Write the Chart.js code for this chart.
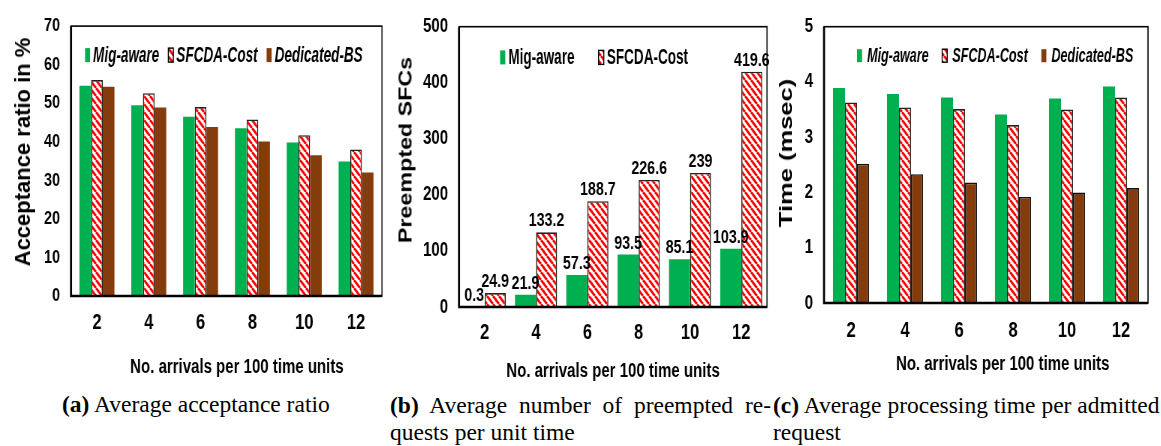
<!DOCTYPE html>
<html>
<head>
<meta charset="utf-8">
<script src="https://cdn.jsdelivr.net/npm/chart.js@4.4.1/dist/chart.umd.min.js"></script>
<style>
  body { margin: 0; background: #fff; width: 1161px; height: 446px; overflow: hidden; position: relative; }
  .squeeze { position: absolute; top: 0; transform: scaleX(0.75); transform-origin: 0 0; }
  .ytitle { position: absolute; font-family: 'Liberation Sans', Arial, sans-serif; font-weight: bold; white-space: nowrap; color: #000; }
  .cap { position: absolute; font-family: 'Liberation Serif', 'Times New Roman', serif; font-size: 23.5px; line-height: 28px; color: #000; white-space: nowrap; }
  .just { white-space: normal; text-align: justify; text-align-last: justify; }
</style>
</head>
<body>
<div class="squeeze" style="left:0px"><canvas id="chartA" width="520" height="390"></canvas></div>
<div class="squeeze" style="left:385px"><canvas id="chartB" width="520" height="390"></canvas></div>
<div class="squeeze" style="left:770px"><canvas id="chartC" width="521" height="390"></canvas></div>

<div class="ytitle" id="ytA" style="font-size:22px">Acceptance ratio in %</div>
<div class="ytitle" id="ytB" style="font-size:17.5px">Preempted SFCs</div>
<div class="ytitle" id="ytC" style="font-size:18.5px">Time (msec)</div>

<div class="cap" style="left:62px;top:390px"><b>(a)</b> Average acceptance ratio</div>
<div class="cap just" style="left:390px;top:391px;width:381px"><b>(b)</b> Average number of preempted re-</div>
<div class="cap" style="left:390px;top:418px">quests per unit time</div>
<div class="cap" style="left:773px;top:391px"><b>(c)</b> Average processing time per admitted</div>
<div class="cap" style="left:773px;top:418px">request</div>

<script>
const arrivals = ['2', '4', '6', '8', '10', '12'];
const seriesNames = ['Mig-aware', 'SFCDA-Cost', 'Dedicated-BS'];

// (a) acceptance ratio in %
const acceptMig = [54.5, 49.5, 46.5, 43.5, 39.8, 34.9];
const acceptSfcda = [56, 52.6, 49, 45.8, 41.7, 38];
const acceptDedicated = [54.3, 48.9, 43.8, 40.1, 36.5, 32];

// (b) preempted SFCs
const preemptMig = [0.3, 21.9, 57.3, 93.5, 85.1, 103.9];
const preemptSfcda = [24.9, 133.2, 188.7, 226.6, 239, 419.6];

// (c) processing time (msec)
const timeMig = [3.89, 3.78, 3.72, 3.41, 3.70, 3.92];
const timeSfcda = [3.63, 3.54, 3.51, 3.22, 3.50, 3.72];
const timeDedicated = [2.52, 2.33, 2.18, 1.92, 2.00, 2.08];

const GREEN = '#00b050';
const BROWN = '#843c0c';
const FONT = "'Liberation Sans', Arial, sans-serif";

// red diagonal hatch used for SFCDA-Cost
function hatch() {
    const c = document.createElement('canvas');
    c.width = 8; c.height = 8;
    const g = c.getContext('2d');
    g.fillStyle = '#fff';
    g.fillRect(0, 0, 8, 8);
    g.strokeStyle = '#ff0000';
    g.lineWidth = 2.8;
    g.beginPath();
    [-8, 0, 8].forEach(o => { g.moveTo(o, 0); g.lineTo(o + 8, 8); });
    g.stroke();
    return g.createPattern(c, 'repeat');
}
const HATCH = hatch();

const frame = {
    id: 'frame',
    afterDatasetsDraw(chart) {
        const { ctx, chartArea: a } = chart;
        ctx.save();
        ctx.strokeStyle = '#000';
        ctx.lineWidth = 1.6;
        ctx.strokeRect(a.left, a.top, a.right - a.left, a.bottom - a.top);
        ctx.lineWidth = 2.7;
        ctx.beginPath();
        ctx.moveTo(a.left, a.top);
        ctx.lineTo(a.left, a.bottom);
        ctx.lineTo(a.right, a.bottom);
        ctx.stroke();
        ctx.restore();
    }
};

const insideLegend = {
    id: 'insideLegend',
    afterDraw(chart, args, o) {
        const { ctx, chartArea } = chart;
        ctx.save();
        ctx.font = o.font;
        ctx.textBaseline = 'middle';
        let x = chartArea.left + o.x;
        const y = chartArea.top + o.y;
        chart.data.datasets.forEach(ds => {
            ctx.fillStyle = ds.backgroundColor;
            ctx.fillRect(x, y - o.boxH / 2, o.boxW, o.boxH);
            if (ds.backgroundColor === HATCH) {
                ctx.strokeStyle = '#000';
                ctx.lineWidth = 1.4;
                ctx.strokeRect(x, y - o.boxH / 2, o.boxW, o.boxH);
            }
            x += o.boxW + o.gap;
            ctx.save();
            ctx.translate(x, y + 1);
            ctx.scale(o.squeeze, 1);
            ctx.fillStyle = '#000';
            ctx.fillText(ds.label, 0, 0);
            ctx.restore();
            x += ctx.measureText(ds.label).width * o.squeeze + o.spacing;
        });
        ctx.restore();
    }
};

const valueLabels = {
    id: 'valueLabels',
    afterDatasetsDraw(chart, args, o) {
        if (!o.show) return;
        const { ctx } = chart;
        ctx.save();
        ctx.font = 'bold 19px ' + FONT;
        ctx.fillStyle = '#000';
        ctx.textAlign = 'center';
        ctx.textBaseline = 'alphabetic';
        chart.data.datasets.forEach((ds, i) => {
            chart.getDatasetMeta(i).data.forEach((bar, j) => {
                ctx.fillText(String(ds.data[j]), bar.x, bar.y - 6);
            });
        });
        ctx.restore();
    }
};

function makeChart(id, p) {
    return new Chart(document.getElementById(id), {
        type: 'bar',
        data: { labels: arrivals, datasets: p.datasets },
        options: {
            responsive: false,
            animation: false,
            devicePixelRatio: 1,
            layout: { padding: { left: 0, top: p.top, right: p.right, bottom: 0 } },
            datasets: { bar: { categoryPercentage: p.catPct, barPercentage: 1 } },
            scales: {
                x: {
                    grid: { display: false, drawTicks: false },
                    border: { display: false },
                    ticks: { color: '#000', font: { family: FONT, size: 22, weight: 'bold' }, padding: p.xPad },
                    title: {
                        display: true,
                        text: p.xTitle,
                        color: '#000',
                        font: { family: FONT, size: 20, weight: 'bold' },
                        padding: { top: 0, bottom: p.xTitlePad }
                    },
                    afterFit: s => { s.height = p.xHeight; }
                },
                y: {
                    min: 0,
                    max: p.max,
                    grid: { display: false, drawTicks: false },
                    border: { display: false },
                    ticks: { stepSize: p.step, color: '#000', font: { family: FONT, size: p.yFont, weight: 'bold' }, padding: 14.7 },
                    afterFit: s => { s.width = p.yWidth; }
                }
            },
            plugins: {
                legend: { display: false },
                tooltip: { enabled: false },
                insideLegend: p.legend,
                valueLabels: { show: !!p.values }
            }
        },
        plugins: [frame, insideLegend, valueLabels]
    });
}

const sp = n => ' '.repeat(n);

makeChart('chartA', {
    top: 20, right: 10.7, yWidth: 94.7, xHeight: 94, max: 70, step: 10, yFont: 19,
    catPct: 0.675, xPad: 13.5, xTitlePad: 11,
    xTitle: sp(5) + 'No. arrivals per 100 time units',
    legend: { font: 'italic bold 21.5px ' + FONT, x: 18.7, y: 29, boxW: 6.7, boxH: 14, gap: 4, spacing: 12, squeeze: 0.84 },
    datasets: [
        { label: seriesNames[0], data: acceptMig, backgroundColor: GREEN, borderWidth: 0 },
        { label: seriesNames[1], data: acceptSfcda, backgroundColor: HATCH, borderColor: '#222', borderWidth: 1.6 },
        { label: seriesNames[2], data: acceptDedicated, backgroundColor: BROWN, borderWidth: 0 }
    ]
});

makeChart('chartB', {
    top: 25, right: 10.7, yWidth: 98.7, xHeight: 83, max: 500, step: 100, yFont: 20,
    catPct: 0.82, xPad: 13, xTitlePad: 7, values: true,
    xTitle: 'No. arrivals per 100 time units',
    legend: { font: 'bold 21.5px ' + FONT, x: 54.7, y: 30.7, boxW: 7, boxH: 14, gap: 4, spacing: 32, squeeze: 0.84 },
    datasets: [
        { label: seriesNames[0], data: preemptMig, backgroundColor: GREEN, borderWidth: 0 },
        { label: seriesNames[1], data: preemptSfcda, backgroundColor: HATCH, borderColor: '#222', borderWidth: 1.6 }
    ]
});

makeChart('chartC', {
    top: 24, right: 17, yWidth: 72, xHeight: 87, max: 5, step: 1, yFont: 20,
    catPct: 0.667, xPad: 15, xTitlePad: 14,
    xTitle: sp(8) + 'No. arrivals per 100 time units',
    legend: { font: 'italic bold 20px ' + FONT, x: 44, y: 29, boxW: 6.7, boxH: 13, gap: 6.7, spacing: 18, squeeze: 0.84 },
    datasets: [
        { label: seriesNames[0], data: timeMig, backgroundColor: GREEN, borderWidth: 0 },
        { label: seriesNames[1], data: timeSfcda, backgroundColor: HATCH, borderColor: '#222', borderWidth: 1.6 },
        { label: seriesNames[2], data: timeDedicated, backgroundColor: BROWN, borderColor: '#111', borderWidth: 1.6 }
    ]
});

// rotated y-axis titles, placed by their centre
function placeTitle(id, cx, cy, stretch) {
    const el = document.getElementById(id);
    el.style.left = cx + 'px';
    el.style.top = cy + 'px';
    el.style.transform = 'translate(-50%, -50%) rotate(-90deg) scaleX(' + stretch + ')';
}
placeTitle('ytA', 23, 152, 1.0);
placeTitle('ytB', 406, 150, 1.33);
placeTitle('ytC', 786, 153, 1.38);
</script>
</body>
</html>
